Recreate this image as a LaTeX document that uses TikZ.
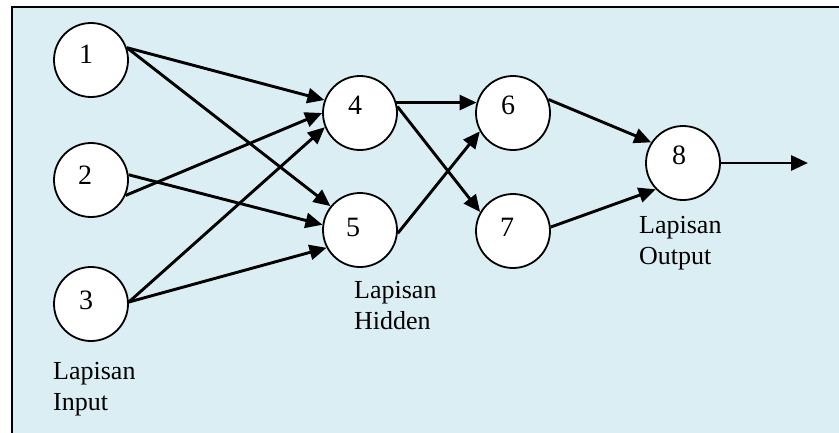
\documentclass[tikz,border=0pt]{standalone}
\usepackage{fontspec}
\setmainfont{Liberation Serif}
\usetikzlibrary{arrows.meta}
\definecolor{bgblue}{RGB}{219,238,243}
\begin{document}
\begin{tikzpicture}[x=1pt,y=-1pt,
  neuron/.style={circle,draw,line width=1.8pt,fill=white,minimum size=74pt,inner sep=0pt},
  edge/.style={line width=2.9pt,-{Triangle[length=17pt,width=15pt]}},
  layertext/.style={anchor=north west,align=left,inner sep=0pt,font=\fontsize{26}{31}\selectfont},
  numtext/.style={font=\fontsize{28}{32}\selectfont,inner sep=0pt}]
\useasboundingbox (0,0) rectangle (839,432);
\clip (0,0) rectangle (839,432);
\path[fill=bgblue,draw=black,line width=2pt] (12,7) rectangle (860,450);

% neurons
\node[neuron,label={[numtext,xshift=-5pt,yshift=6pt]center:1}] (n1) at (91,60) {};
\node[neuron,label={[numtext,xshift=-6pt,yshift=5pt]center:2}] (n2) at (91,180) {};
\node[neuron,label={[numtext,xshift=-5pt,yshift=4pt]center:3}] (n3) at (91,304) {};
\node[neuron,label={[numtext,xshift=-5pt,yshift=8pt]center:4}] (n4) at (360,113) {};
\node[neuron,label={[numtext,xshift=-7pt,yshift=3pt]center:5}] (n5) at (360,230) {};
\node[neuron,label={[numtext,xshift=-5pt,yshift=8pt]center:6}] (n6) at (513,113) {};
\node[neuron,label={[numtext,xshift=-6pt,yshift=4pt]center:7}] (n7) at (513,231) {};
\node[neuron,label={[numtext,xshift=-4pt,yshift=8pt]center:8}] (n8) at (683,163) {};

% layer labels
\node[layertext] (tin) at (53,362) {Lapisan\\Input};
\node[layertext] (thid) at (354,281) {Lapisan\\Hidden};
\node[layertext] (tout) at (639,216) {Lapisan\\Output};

% connectors
\draw[edge] (n1.19) -- (n4.160);
\draw[edge] (n1.19) -- (n5.141);
\draw[edge] (n2.336) -- (n4.180);
\draw[edge] (n2.8) -- (n5.172);
\draw[edge] (n3.3) -- (n4.202);
\draw[edge] (n3.3) -- (n5.208);
\draw[edge] (n4.16) -- (n6.164);
\draw[edge] (n4.10) -- (n7.150);
\draw[edge] (n5.355) -- (n6.209);
\draw[edge] (n6.21) -- (n8.147);
\draw[edge] (n7.6) -- (n8.224);
\coordinate (out) at (808,163);
\draw[edge] (n8.east) -- (out);
\end{tikzpicture}
\end{document}
